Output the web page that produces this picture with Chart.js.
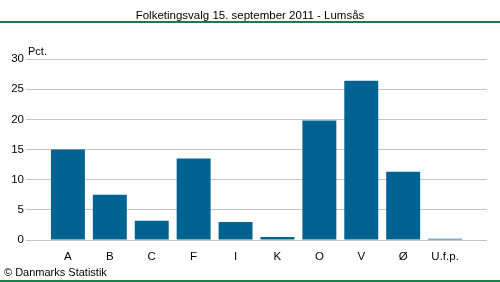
<!DOCTYPE html>
<html>
<head>
<meta charset="utf-8">
<script src="https://cdn.jsdelivr.net/npm/chart.js@4.4.0/dist/chart.umd.min.js"></script>
<style>
  html, body { margin: 0; padding: 0; background: #fff; }
  body { width: 500px; height: 282px; position: relative; overflow: hidden; font-family: "Liberation Sans", Arial, sans-serif; color: #000; }
  #titel { position: absolute; left: 0; top: 8px; width: 500px; text-align: center; font-size: 11.5px; line-height: 14px; }
  #linjeTop { position: absolute; left: 0; top: 21px; width: 500px; height: 2px; background: #1b7f45; }
  #linjeBund { position: absolute; left: 0; top: 280px; width: 500px; height: 2px; background: #1b7f45; }
  #enhed { position: absolute; left: 28px; top: 44px; font-size: 11px; line-height: 14px; }
  #kilde { position: absolute; left: 4px; top: 265px; font-size: 11px; line-height: 14px; }
  #wrap { position: absolute; left: 0; top: 0; width: 500px; height: 282px; }
</style>
</head>
<body>
<div id="wrap"><canvas id="chart"></canvas></div>
<div id="titel">Folketingsvalg 15. september 2011 - Lumsås</div>
<div id="linjeTop"></div>
<div id="enhed">Pct.</div>
<div id="kilde">© Danmarks Statistik</div>
<div id="linjeBund"></div>
<script>
document.addEventListener('DOMContentLoaded', function () {
  const partier = ['A', 'B', 'C', 'F', 'I', 'K', 'O', 'V', 'Ø', 'U.f.p.'];
  const procent = [15.0, 7.5, 3.2, 13.5, 3.0, 0.5, 19.8, 26.4, 11.3, 0.2];
  const yTicks = [0, 5, 10, 15, 20, 25, 30];

  const ctx = document.getElementById('chart').getContext('2d');
  new Chart(ctx, {
    type: 'bar',
    data: {
      datasets: [{
        data: procent.map((v, i) => ({ x: i, y: v })),
        backgroundColor: '#006392',
        borderWidth: 0,
        barPercentage: 0.81,
        categoryPercentage: 1.0
      }]
    },
    options: {
      responsive: true,
      maintainAspectRatio: false,
      animation: false,
      layout: { padding: { top: 59, right: 13, bottom: 0, left: 0 } },
      plugins: { legend: { display: false }, tooltip: { enabled: false } },
      scales: {
        x: {
          type: 'linear',
          min: -1,
          max: 10,
          offset: false,
          grid: { display: false },
          border: { display: false },
          ticks: {
            stepSize: 1,
            autoSkip: false,
            maxRotation: 0,
            padding: 2,
            color: '#000',
            font: { family: 'Liberation Sans', size: 11.5 },
            callback: function (v) { return partier[v] !== undefined ? partier[v] : ''; }
          },
          afterFit: function (scale) { scale.height = 42; }
        },
        y: {
          min: 0,
          max: 30,
          grid: { color: '#c3c3cb', drawTicks: false, lineWidth: 1 },
          border: { display: false },
          ticks: {
            stepSize: 5,
            padding: 2,
            color: '#000',
            font: { family: 'Liberation Sans', size: 11.5 },
            callback: function (v) { return yTicks.includes(v) ? v : ''; }
          },
          afterFit: function (scale) { scale.width = 26; }
        }
      }
    }
  });
});
</script>
</body>
</html>
